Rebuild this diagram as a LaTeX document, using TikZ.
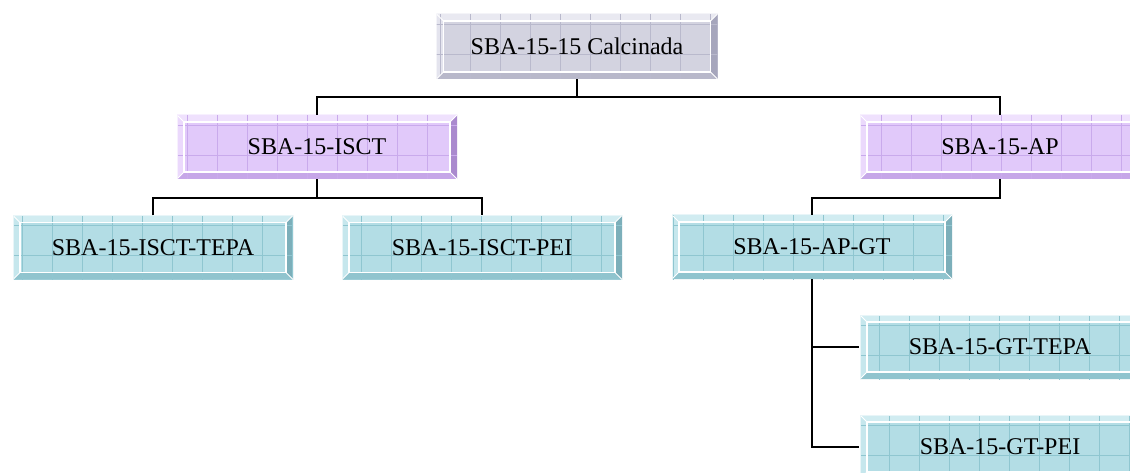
\documentclass[tikz,border=0pt]{standalone}
\usepackage{fontspec}
\setmainfont{Liberation Serif}
\definecolor{gface}{HTML}{D3D3E0}\definecolor{glight}{HTML}{E4E4EE}\definecolor{gdark}{HTML}{B8B8CA}\definecolor{gdarker}{HTML}{A6A6BC}\definecolor{ggrid}{HTML}{B9B9CC}
\definecolor{pface}{HTML}{E1C9FA}\definecolor{plight}{HTML}{EBD9FC}\definecolor{pdark}{HTML}{C6A7E8}\definecolor{pdarker}{HTML}{AA8ACE}\definecolor{pgrid}{HTML}{C9AAEC}
\definecolor{tface}{HTML}{B3DDE5}\definecolor{tlight}{HTML}{C6E7ED}\definecolor{tdark}{HTML}{90C4CE}\definecolor{tdarker}{HTML}{7CAFBA}\definecolor{tgrid}{HTML}{8FC6D0}
\newcommand\bevelpic[5]{%
  \path (path picture bounding box.south west) coordinate (bsw)
        (path picture bounding box.north east) coordinate (bne)
        (path picture bounding box.north west) coordinate (bnw)
        (path picture bounding box.south east) coordinate (bse);
  \fill[#2] (bsw) -- (bnw) -- ([shift={(7pt,-7pt)}]bnw) -- ([shift={(7pt,7pt)}]bsw) -- cycle;
  \fill[#2!80!white] (bnw) -- (bne) -- ([shift={(-7pt,-7pt)}]bne) -- ([shift={(7pt,-7pt)}]bnw) -- cycle;
  \fill[#4] (bne) -- (bse) -- ([shift={(-7pt,7pt)}]bse) -- ([shift={(-7pt,-7pt)}]bne) -- cycle;
  \fill[#3] (bsw) -- (bse) -- ([shift={(-7pt,7pt)}]bse) -- ([shift={(7pt,7pt)}]bsw) -- cycle;
  \draw[#5, line width=0.6pt, step=30pt, shift={(10pt,-4pt)}] ([shift={(-10pt,-30pt)}]bsw) grid ([shift={(0pt,30pt)}]bne);
  \draw[white, line width=1.1pt] ([shift={(7pt,7pt)}]bsw) rectangle ([shift={(-7pt,-7pt)}]bne);
  \draw[white, line width=1pt] (bsw) -- ([shift={(7pt,7pt)}]bsw) (bnw) -- ([shift={(7pt,-7pt)}]bnw)
        (bne) -- ([shift={(-7pt,-7pt)}]bne) (bse) -- ([shift={(-7pt,7pt)}]bse);
  \draw[white!60!#2, line width=1pt] (bsw) -- (bnw) -- (bne);
}
\tikzset{
  bevelbox/.style n args={5}{fill=#1, draw=none, minimum width=280pt, minimum height=64pt,
    inner sep=0pt, text=black, font=\fontsize{24}{28}\selectfont,
    path picture={\bevelpic{#1}{#2}{#3}{#4}{#5}}},
  greybox/.style={bevelbox={gface}{glight}{gdark}{gdarker}{ggrid}},
  purplebox/.style={bevelbox={pface}{plight}{pdark}{pdarker}{pgrid}},
  tealbox/.style={bevelbox={tface}{tlight}{tdark}{tdarker}{tgrid}},
  conn/.style={draw=black, line width=1.8pt}
}
\begin{document}
\begin{tikzpicture}[x=1pt, y=-1pt]
\useasboundingbox (0,0) rectangle (1130,473);
\clip (0,0) rectangle (1130,473);
\fill[white] (0,0) rectangle (1130,473);
\node[greybox, minimum width=281pt, minimum height=65pt] (top) at (577,46.5) {SBA-15-15 Calcinada};
\node[purplebox] (isct) at (317,147) {SBA-15-ISCT};
\node[purplebox] (ap) at (1000,147) {SBA-15-AP};
\node[tealbox] (tepa) at (153,247.5) {SBA-15-ISCT-TEPA};
\node[tealbox] (pei) at (482,247.5) {SBA-15-ISCT-PEI};
\node[tealbox] (apgt) at (812,247) {SBA-15-AP-GT};
\node[tealbox] (gttepa) at (1000,347) {SBA-15-GT-TEPA};
\node[tealbox] (gtpei) at (1000,447) {SBA-15-GT-PEI};
\coordinate (j1) at (577,97);
\coordinate (j2) at (317,198);
\coordinate (j3) at (1000,198);
\draw[conn] (top.south) -- (j1);
\draw[conn] (isct.north) |- (j1) -| (ap.north);
\draw[conn] (isct.south) -- (j2);
\draw[conn] (tepa.north) |- (j2) -| (pei.north);
\draw[conn] (ap.south) -- (j3) -| (apgt.north);
\draw[conn] (apgt.south) |- ([xshift=-1pt]gttepa.west);
\draw[conn] (apgt.south) |- ([xshift=-1pt]gtpei.west);
\end{tikzpicture}
\end{document}
